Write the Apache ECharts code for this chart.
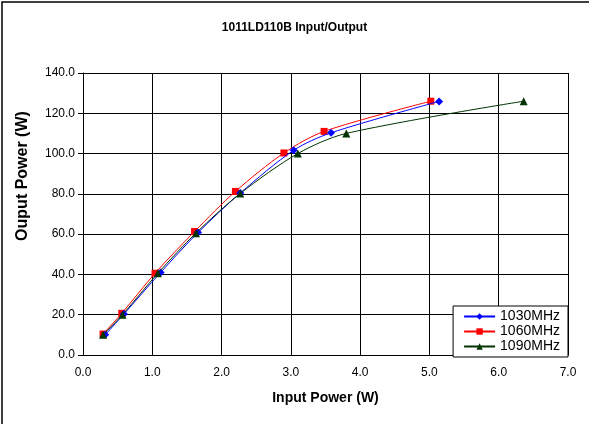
<!DOCTYPE html>
<html>
<head>
<meta charset="utf-8">
<script src="https://cdn.jsdelivr.net/npm/echarts@6/dist/echarts.min.js"></script>
<style>
  html, body { margin: 0; padding: 0; background: #fff; }
  #chart { width: 589px; height: 424px; }
</style>
</head>
<body>
<div id="chart"></div>
<script>
// input power (W) / output power (W) for each frequency
var in1030 = [0.32, 0.59, 1.12, 1.66, 2.27, 3.04, 3.58, 5.14];
var out1030 = [10.0, 20.3, 41.0, 60.8, 80.4, 101.6, 110.3, 125.9];
var in1060 = [0.29, 0.56, 1.04, 1.61, 2.20, 2.90, 3.48, 5.02];
var out1060 = [10.4, 20.7, 40.6, 61.3, 81.2, 100.3, 111.0, 126.0];
var in1090 = [0.29, 0.57, 1.08, 1.63, 2.27, 3.10, 3.80, 6.36];
var out1090 = [10.0, 20.0, 40.6, 60.5, 80.2, 100.0, 110.0, 126.0];
var seriesNames = ['1030MHz', '1060MHz', '1090MHz'];

function pairs(xs, ys) {
  var r = [];
  for (var i = 0; i < xs.length; i++) r.push([xs[i], ys[i]]);
  return r;
}

var font = 'Liberation Sans, Arial, sans-serif';
var myChart = echarts.init(document.getElementById('chart'));
var option = {
  animation: false,
  backgroundColor: '#fff',
  textStyle: { fontFamily: font },
  title: {
    text: '1011LD110B Input/Output',
    left: 'center',
    top: 17,
    textStyle: { fontFamily: font, fontSize: 12, fontWeight: 'bold', color: '#000' }
  },
  // outer chart border (only top/left visible in the crop)
  graphic: [{
    type: 'rect',
    shape: { x: 2, y: 2, width: 700, height: 600 },
    style: { fill: 'none', stroke: '#000', lineWidth: 1.5 },
    silent: true
  }],
  grid: { left: 83, right: 21, top: 73, bottom: 69, containLabel: false },
  legend: {
    orient: 'vertical',
    right: 21,
    top: 306,
    itemGap: 0,
    itemWidth: 31,
    itemHeight: 8,
    padding: [3, 8, 3, 10],
    backgroundColor: '#fff',
    borderColor: '#000',
    borderWidth: 1,
    textStyle: { fontFamily: font, fontSize: 14, color: '#000', lineHeight: 15 },
    data: seriesNames
  },
  xAxis: {
    type: 'value',
    min: 0, max: 7, interval: 1,
    name: 'Input Power (W)',
    nameLocation: 'middle',
    nameGap: 36,
    nameTextStyle: { fontFamily: font, fontSize: 14, fontWeight: 'bold', color: '#000' },
    axisLine: { show: true, lineStyle: { color: '#000', width: 1 } },
    axisTick: { show: false },
    axisLabel: { color: '#000', fontSize: 12, margin: 12, formatter: function (v) { return v.toFixed(1); } },
    splitLine: { show: true, lineStyle: { color: '#000', width: 1 } }
  },
  yAxis: {
    type: 'value',
    min: 0, max: 140, interval: 20,
    name: 'Ouput Power (W)',
    nameLocation: 'middle',
    nameGap: 52,
    nameRotate: 90,
    nameTextStyle: { fontFamily: font, fontSize: 16, fontWeight: 'bold', color: '#000', padding: [0, 0, 0, 76] },
    axisLine: { show: true, lineStyle: { color: '#000', width: 1 } },
    axisTick: { show: true, length: 5, lineStyle: { color: '#000' } },
    axisLabel: { color: '#000', fontSize: 12, margin: 8, formatter: function (v) { return v.toFixed(1); } },
    splitLine: { show: true, lineStyle: { color: '#000', width: 1 } }
  },
  series: [
    {
      name: seriesNames[0], type: 'line', smooth: 0.3,
      data: pairs(in1030, out1030),
      symbol: 'diamond', symbolSize: 8,
      itemStyle: { color: '#0000ff' },
      lineStyle: { color: '#0000ff', width: 1 },
      z: 3
    },
    {
      name: seriesNames[1], type: 'line', smooth: 0.3,
      data: pairs(in1060, out1060),
      symbol: 'rect', symbolSize: 7,
      itemStyle: { color: '#ff0000' },
      lineStyle: { color: '#ff0000', width: 1 },
      z: 2
    },
    {
      name: seriesNames[2], type: 'line', smooth: 0.3,
      data: pairs(in1090, out1090),
      symbol: 'triangle', symbolSize: 8,
      itemStyle: { color: '#003300' },
      lineStyle: { color: '#003300', width: 1 },
      z: 4
    }
  ]
};
myChart.setOption(option);
</script>
</body>
</html>
